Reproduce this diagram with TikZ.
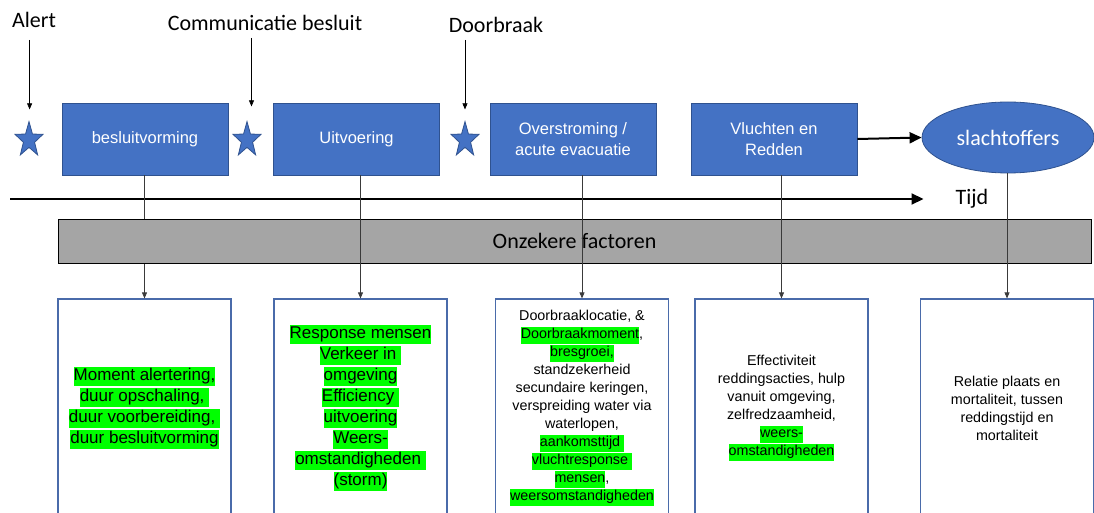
\documentclass[tikz,border=0pt]{standalone}
\usepackage{fontspec}
\setmainfont{Liberation Sans}
\newfontfamily\calfont{Carlito}
\usetikzlibrary{shapes.geometric,arrows.meta}
\definecolor{boxblue}{HTML}{4472C4}
\definecolor{boxedge}{HTML}{2F528F}
\definecolor{botedge}{HTML}{4A6BAA}
\definecolor{hlgreen}{HTML}{00FF00}
\definecolor{bandgray}{HTML}{A5A5A5}
\definecolor{linegray}{HTML}{3A3A3A}
\newcommand{\hlg}[1]{{\setlength{\fboxsep}{0pt}\colorbox{hlgreen}{\rule[-0.28\baselineskip]{0pt}{0.95\baselineskip}#1}}}
\begin{document}
\begin{tikzpicture}[x=1pt,y=-1pt,
  topbox/.style={draw=boxedge, fill=boxblue, line width=0.8pt, minimum width=166pt, minimum height=72pt, inner sep=0pt, text=white, font=\fontsize{16.5}{21}\selectfont, align=center},
  botbox/.style={draw=botedge, line width=1.2pt, minimum width=173pt, minimum height=218pt, inner sep=0pt, align=center},
  bigtxt/.style={font=\fontsize{17}{21}\selectfont},
  smalltxt/.style={font=\fontsize{14.3}{18}\selectfont},
  starnode/.style={star, star points=5, star point ratio=2.5, fill=boxblue, draw=boxedge, line width=0.8pt, minimum size=36.8pt, inner sep=0pt},
  evt/.style={font=\calfont\fontsize{22}{26}\selectfont, inner sep=0pt},
  cue/.style={-{Triangle[length=6pt,width=5pt]}, line width=0.6pt},
  link/.style={line width=0.7pt, draw=linegray},
  linkarr/.style={link, -{Triangle[length=6pt,width=5pt]}},
  heavy/.style={line width=2pt, -{Triangle[length=12pt,width=11pt]}},
]
\clip (0,0) rectangle (1094,513);
\useasboundingbox (0,0) rectangle (1094,513);

% event labels
\node[evt] (alert) at (34,20) {Alert};
\node[evt] (comm) at (265,23) {Communicatie besluit};
\node[evt] (door) at (496,25) {Doorbraak};

% stars
\begin{scope}[shift={(29,140)}, xscale=0.8]
  \node[starnode, transform shape] (s1) at (0,0) {};
\end{scope}
\begin{scope}[shift={(247,140)}, xscale=0.8]
  \node[starnode, transform shape] (s2) at (0,0) {};
\end{scope}
\begin{scope}[shift={(465,140)}, xscale=0.8]
  \node[starnode, transform shape] (s3) at (0,0) {};
\end{scope}

\coordinate (a1) at (29.6,40);
\coordinate (a2) at (251.5,38);
\coordinate (a3) at (465,40);
\draw[cue, shorten >=11pt] (a1) -- (a1 |- s1.north);
\draw[cue, shorten >=14pt] (a2) -- (a2 |- s2.north);
\draw[cue, shorten >=11pt] (a3) -- (a3 |- s3.north);

% top boxes
\node[topbox] (t1) at (145,139) {besluitvorming};
\node[topbox] (t2) at (356.5,139) {Uitvoering};
\node[topbox] (t3) at (573,139) {Overstroming /\\acute evacuatie};
\node[topbox] (t4) at (774,139) {Vluchten en\\Redden};
\node[ellipse, draw=boxedge, fill=boxblue, line width=0.8pt, minimum width=172pt, minimum height=71pt, inner sep=0pt, text=white, font=\calfont\fontsize{22}{26}\selectfont] (vic) at (1008,137.5) {slachtoffers};
\draw[heavy] (t4.east) -- (vic.west);

% timeline
\node[font=\calfont\fontsize{22}{26}\selectfont, inner sep=0pt] (tijd) at (972,199) {Tijd};
\coordinate (t0) at (10,199);
\draw[heavy] (t0) -- (t0 -| tijd.west) [shorten >=32pt];

% bottom boxes
\node[botbox, bigtxt] (b1) at (144.5,408) {\hlg{Moment alertering,}\\\hlg{duur opschaling, }\\\hlg{duur voorbereiding, }\\\hlg{duur besluitvorming}};
\node[botbox, bigtxt] (b2) at (360.5,408) {\hlg{Response mensen}\\\hlg{Verkeer in }\\\hlg{omgeving}\\\hlg{Efficiency }\\\hlg{uitvoering}\\\hlg{Weers-}\\\hlg{omstandigheden }\\\hlg{(storm)}};
\node[botbox, smalltxt] (b3) at (582,408) {Doorbraaklocatie, \&\\\hlg{Doorbraakmoment},\\\hlg{bresgroei,}\\standzekerheid\\secundaire keringen,\\verspreiding water via\\waterlopen,\\\hlg{aankomsttijd }\\\hlg{vluchtresponse }\\\hlg{mensen},\\\hlg{weersomstandigheden}};
\node[botbox, smalltxt] (b4) at (781.5,408) {Effectiviteit\\reddingsacties, hulp\\vanuit omgeving,\\zelfredzaamheid,\\\hlg{weers-}\\\hlg{omstandigheden}};
\node[botbox, smalltxt] (b5) at (1007,408) {Relatie plaats en\\mortaliteit, tussen\\reddingstijd en\\mortaliteit};

% first link passes behind the band
\draw[linkarr] (b1.north |- t1.south) -- (b1.north);

% uncertainty band
\node[draw=black, fill=bandgray, line width=1pt, minimum width=1033pt, minimum height=44pt, inner sep=0pt, font=\calfont\fontsize{22}{26}\selectfont] (band) at (574.5,241) {Onzekere factoren};

% other links over the band
\draw[linkarr] (b2.north |- t2.south) -- (b2.north);
\draw[linkarr] (b3.north |- t3.south) -- (b3.north);
\draw[linkarr] (b4.north |- t4.south) -- (b4.north);
\draw[linkarr] (b5.north |- vic.south) -- (b5.north);
\end{tikzpicture}
\end{document}
